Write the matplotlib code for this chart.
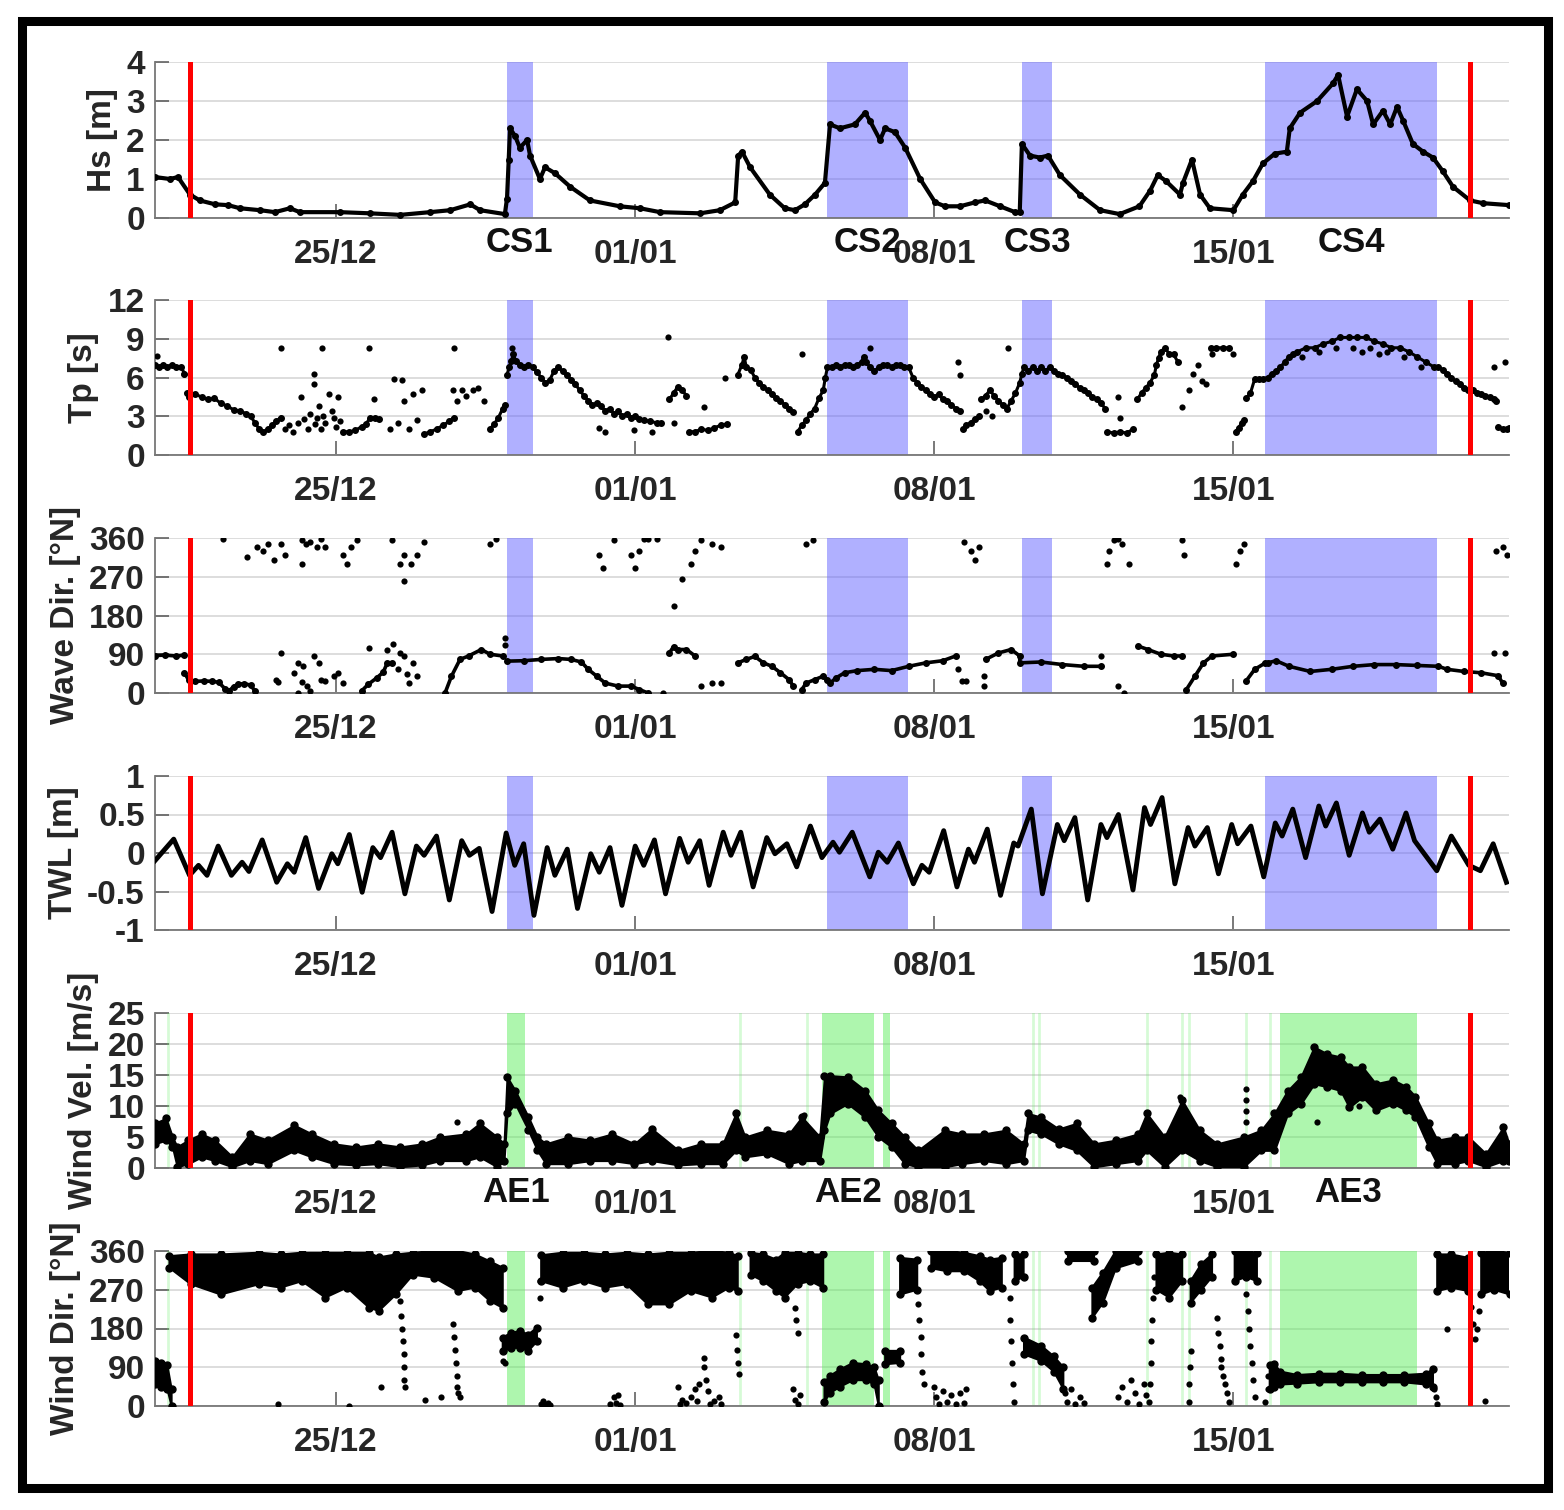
import numpy as np
import matplotlib
matplotlib.use("Agg")
import matplotlib.pyplot as plt
from matplotlib.patches import Rectangle
from matplotlib import font_manager

NA = np.nan

# time axis: days counted from 25/12 00:00
x_ticks = [0, 7, 14, 21]
x_ticklabels = ["25/12", "01/01", "08/01", "15/01"]
t_start, t_end = -4.25, 27.45

red_lines = [-3.42, 26.53]
cs_starts = [4.0, 11.5, 16.05, 21.75]
cs_ends = [4.6, 13.38, 16.76, 25.77]
cs_names = ["CS1", "CS2", "CS3", "CS4"]
ae_starts = [4.0, 11.37, 12.8, 22.08]
ae_ends = [4.43, 12.6, 12.97, 25.3]
ae_names = ["AE1", "AE2", "AE3"]
ae_label_t = [4.2, 11.98, 23.69]
ae_faint = [-3.93, 9.46, 11.01, 16.3, 16.45, 18.97, 19.8, 19.95, 21.29, 21.86]

# ---- Hs [m] ----
hs = np.array([
    [-4.24, 1.05], [-3.89, 1.0], [-3.70, 1.05], [-3.42, 0.6], [-3.19, 0.45], [-2.83, 0.35],
    [-2.53, 0.33], [-2.25, 0.25], [-1.78, 0.2], [-1.43, 0.15], [-1.08, 0.25], [-0.85, 0.15],
    [0.09, 0.15], [0.79, 0.12], [1.50, 0.08], [2.20, 0.15], [2.67, 0.2], [3.14, 0.35],
    [3.37, 0.2], [3.95, 0.1], [4.00, 0.5], [4.04, 1.5], [4.07, 2.3], [4.19, 2.1], [4.30, 1.8],
    [4.47, 2.0], [4.54, 1.6], [4.77, 1.0], [4.89, 1.3], [5.12, 1.15], [5.48, 0.8], [5.94, 0.45],
    [6.64, 0.3], [7.11, 0.25], [7.58, 0.15], [8.52, 0.12], [8.98, 0.2], [9.34, 0.4], [9.41, 1.6],
    [9.50, 1.7], [9.69, 1.3], [10.15, 0.6], [10.50, 0.25], [10.74, 0.2], [10.97, 0.35],
    [11.21, 0.6], [11.44, 0.9], [11.56, 2.4], [11.79, 2.3], [12.14, 2.4], [12.38, 2.7],
    [12.49, 2.5], [12.73, 2.0], [12.85, 2.3], [13.08, 2.2], [13.32, 1.8], [13.67, 1.0],
    [14.02, 0.4], [14.25, 0.3], [14.60, 0.3], [14.95, 0.4], [15.19, 0.45], [15.54, 0.3],
    [15.89, 0.15], [16.00, 0.15], [16.05, 1.9], [16.24, 1.6], [16.47, 1.55], [16.66, 1.6],
    [16.94, 1.1], [17.41, 0.6], [17.88, 0.2], [18.34, 0.1], [18.80, 0.3], [19.05, 0.7],
    [19.23, 1.1], [19.42, 0.95], [19.75, 0.6], [19.82, 0.9], [20.03, 1.5], [20.22, 0.6],
    [20.45, 0.25], [21.00, 0.2], [21.22, 0.6], [21.46, 0.95], [21.69, 1.4], [21.97, 1.65],
    [22.25, 1.7], [22.32, 2.3], [22.56, 2.7], [22.96, 3.0], [23.33, 3.45], [23.45, 3.67],
    [23.66, 2.6], [23.89, 3.3], [24.13, 3.0], [24.27, 2.4], [24.50, 2.75], [24.67, 2.4],
    [24.83, 2.85], [24.97, 2.5], [25.20, 1.9], [25.44, 1.7], [25.67, 1.55], [25.90, 1.2],
    [26.14, 0.8], [26.54, 0.45], [26.84, 0.38], [27.45, 0.33],
])

# ---- Tp [s]: continuous runs (NaN breaks) and isolated values ----
tp_runs = np.array([
    [-4.25, 7.0], [-4.15, 6.8], [-4.05, 7.0], [-3.95, 6.8], [-3.85, 7.0], [-3.75, 6.8], [-3.62, 6.8], [-3.55, 6.3], [NA, NA],
    [-3.5, 4.8], [-3.45, 4.5], [-3.3, 4.7], [-3.15, 4.5], [-3.0, 4.3], [-2.85, 4.4], [-2.7, 4.0], [-2.55, 3.8],
    [-2.4, 3.5], [-2.25, 3.4], [-2.1, 3.2], [-2.0, 3.0], [-1.9, 2.5], [-1.8, 2.0], [-1.7, 1.8], [-1.6, 2.0],
    [-1.5, 2.3], [-1.4, 2.6], [-1.3, 2.9], [NA, NA],
    [0.15, 1.8], [0.3, 1.8], [0.45, 1.9], [0.6, 2.2], [0.7, 2.4], [0.8, 2.9], [0.9, 2.9], [1.0, 2.8], [NA, NA],
    [2.05, 1.6], [2.2, 1.8], [2.35, 2.0], [2.5, 2.3], [2.65, 2.6], [2.75, 2.9], [NA, NA],
    [3.6, 2.0], [3.7, 2.4], [3.8, 2.9], [3.9, 3.6], [3.95, 3.9], [NA, NA],
    [4.0, 6.2], [4.05, 6.8], [4.1, 7.3], [4.15, 7.8], [4.2, 7.3], [4.3, 7.0], [4.4, 6.8], [4.5, 7.0],
    [4.6, 6.8], [4.7, 6.4], [4.8, 6.0], [4.9, 5.6], [5.0, 5.8], [5.1, 6.5], [5.2, 6.8], [5.3, 6.5],
    [5.4, 6.2], [5.5, 5.8], [5.6, 5.5], [5.7, 5.0], [5.8, 4.6], [5.9, 4.2], [6.0, 3.9], [6.1, 4.0],
    [6.2, 3.8], [6.3, 3.4], [6.4, 3.6], [6.5, 3.2], [6.6, 3.4], [6.7, 3.0], [6.8, 3.2], [6.9, 2.9],
    [7.0, 3.0], [7.1, 2.8], [7.2, 2.7], [7.35, 2.6], [7.5, 2.5], [7.6, 2.5], [NA, NA],
    [7.8, 4.3], [7.9, 4.8], [8.0, 5.3], [8.1, 5.0], [8.2, 4.6], [NA, NA],
    [8.25, 1.8], [8.4, 1.8], [8.55, 2.0], [8.7, 1.9], [8.85, 2.1], [9.0, 2.3], [9.15, 2.4], [NA, NA],
    [9.4, 6.2], [9.5, 7.0], [9.55, 7.6], [9.6, 6.8], [9.7, 6.6], [9.8, 6.0], [9.9, 5.6], [10.0, 5.3],
    [10.1, 5.0], [10.2, 4.7], [10.3, 4.4], [10.4, 4.2], [10.5, 3.9], [10.6, 3.6], [10.7, 3.3], [NA, NA],
    [10.8, 1.8], [10.9, 2.3], [11.0, 2.7], [11.1, 3.2], [11.2, 3.6], [11.3, 4.4], [11.4, 5.0],
    [11.45, 6.0], [11.5, 6.8], [11.6, 6.8], [11.7, 7.0], [11.8, 6.8], [11.9, 7.0], [12.0, 7.0],
    [12.1, 6.8], [12.2, 7.0], [12.3, 7.2], [12.35, 7.6], [12.4, 7.2], [12.5, 6.8], [12.6, 6.5],
    [12.7, 6.8], [12.8, 7.0], [12.9, 7.0], [13.0, 6.8], [13.1, 7.0], [13.2, 7.0], [13.3, 6.8],
    [13.4, 6.8], [13.5, 6.0], [13.6, 5.6], [13.7, 5.3], [13.8, 5.0], [13.9, 4.7], [14.0, 4.5],
    [14.1, 4.7], [14.2, 4.3], [14.3, 4.2], [14.4, 3.9], [14.5, 3.6], [14.6, 3.4], [NA, NA],
    [14.68, 2.0], [14.75, 2.3], [14.85, 2.5], [14.95, 2.8], [15.05, 3.0], [NA, NA],
    [15.1, 4.3], [15.2, 4.6], [15.3, 5.0], [15.4, 4.6], [15.5, 4.2], [15.6, 3.9], [15.7, 3.6],
    [15.8, 4.2], [15.9, 4.8], [16.0, 5.6], [16.05, 6.3], [16.1, 6.8], [16.2, 6.5], [16.3, 6.8],
    [16.4, 6.5], [16.5, 6.8], [16.6, 6.5], [16.7, 6.8], [16.8, 6.5], [16.9, 6.3], [17.0, 6.2],
    [17.1, 6.0], [17.2, 5.7], [17.3, 5.5], [17.4, 5.2], [17.5, 5.0], [17.6, 4.8], [17.7, 4.5],
    [17.8, 4.3], [17.9, 4.0], [18.0, 3.6], [NA, NA],
    [18.05, 1.8], [18.2, 1.7], [18.35, 1.8], [18.5, 1.7], [18.65, 2.0], [NA, NA],
    [18.75, 4.3], [18.85, 4.8], [18.95, 5.2], [19.05, 5.6], [19.15, 6.2], [19.2, 7.0], [19.25, 7.5],
    [19.3, 8.0], [19.4, 8.3], [19.5, 7.8], [19.6, 7.8], [19.7, 7.2], [NA, NA],
    [20.47, 8.3], [20.6, 8.3], [20.75, 8.3], [20.9, 8.3], [NA, NA],
    [21.05, 1.8], [21.12, 2.1], [21.2, 2.5], [21.25, 2.7], [NA, NA],
    [21.3, 4.4], [21.4, 4.8], [21.5, 5.9], [21.6, 5.9], [21.7, 5.9], [21.8, 6.0], [21.9, 6.3],
    [22.0, 6.5], [22.1, 6.8], [22.2, 7.2], [22.3, 7.6], [22.4, 7.8], [22.5, 8.0], [22.7, 8.3],
    [22.9, 8.3], [23.1, 8.6], [23.3, 8.8], [23.5, 9.1], [23.7, 9.1], [23.9, 9.1], [24.1, 9.1],
    [24.3, 8.8], [24.5, 8.6], [24.7, 8.3], [24.9, 8.3], [25.1, 8.0], [25.3, 7.6], [25.5, 7.2],
    [25.7, 6.8], [25.8, 6.8], [25.9, 6.6], [26.0, 6.3], [26.1, 6.0], [26.2, 5.7], [26.3, 5.5],
    [26.4, 5.2], [26.5, 5.0], [26.6, 5.0], [26.7, 4.8], [26.8, 4.7], [26.9, 4.6], [27.0, 4.5],
    [27.1, 4.3], [27.15, 4.2], [NA, NA],
    [27.2, 2.2], [27.3, 2.0], [27.4, 2.0], [27.45, 2.1],
])
tp_pts = np.array([
    [-4.2, 7.7], [-3.57, 6.3], [-1.29, 8.3], [-0.33, 8.3], [0.78, 8.3], [2.77, 8.3], [-0.52, 6.3],
    [-0.52, 5.5], [-1.2, 2.0], [-1.1, 2.3], [-1.0, 1.8], [-0.9, 2.5], [-0.83, 4.5], [-0.75, 2.8],
    [-0.65, 2.0], [-0.6, 3.2], [-0.5, 2.4], [-0.45, 2.9], [-0.4, 3.8], [-0.35, 2.0], [-0.3, 3.0],
    [-0.25, 2.5], [-0.16, 4.7], [-0.1, 3.4], [-0.05, 2.9], [0.0, 2.2], [0.05, 4.5], [0.1, 2.6],
    [0.88, 4.3], [1.35, 5.9], [1.55, 5.8], [1.6, 4.2], [1.8, 4.7], [1.9, 2.7], [2.0, 5.0],
    [1.25, 2.0], [1.45, 2.5], [1.7, 2.0], [2.74, 5.0], [2.84, 4.2], [2.95, 5.0], [3.05, 4.6],
    [3.2, 5.0], [3.31, 5.2], [3.46, 4.2], [4.12, 8.3], [6.15, 2.1], [6.3, 1.75], [6.98, 1.9],
    [7.39, 1.75], [7.76, 9.1], [7.9, 2.5], [8.6, 3.7], [9.1, 6.0], [10.9, 7.8], [12.49, 8.3],
    [14.55, 7.2], [14.6, 6.2], [15.73, 8.3], [15.2, 3.4], [15.35, 3.0], [18.3, 4.5], [18.35, 2.9],
    [19.8, 3.7], [19.95, 5.0], [20.05, 6.3], [20.16, 7.0], [20.26, 5.75], [20.36, 5.5],
    [20.5, 7.8], [21.0, 7.8], [22.6, 7.6], [23.0, 8.0], [23.4, 8.3], [23.8, 8.3], [24.0, 8.0],
    [24.2, 8.3], [24.4, 7.8], [24.6, 8.0], [25.0, 7.6], [25.4, 6.8], [27.1, 6.8], [27.35, 7.2],
])

# ---- Wave direction [°N] ----
wdir_runs = np.array([
    [-4.25, 87], [-4.0, 88], [-3.75, 86], [-3.55, 88], [NA, NA],
    [-3.55, 47], [-3.45, 30], [-3.3, 27], [-3.1, 28], [-2.9, 27], [-2.75, 25], [-2.6, 10], [-2.5, 5],
    [-2.4, 15], [-2.3, 20], [-2.15, 22], [-2.0, 18], [-1.9, 5], [NA, NA],
    [0.6, 5], [0.75, 20], [0.95, 35], [1.1, 48], [1.2, 70], [1.3, 70], [NA, NA],
    [2.55, 0], [2.7, 39], [2.9, 78], [3.1, 86], [3.4, 101], [3.6, 90], [3.9, 86], [NA, NA],
    [4.0, 74], [4.4, 75], [4.8, 78], [5.2, 80], [5.5, 78], [5.74, 72], [5.9, 55], [6.1, 39],
    [6.3, 23], [6.6, 16], [6.9, 16], [7.1, 8], [7.3, 0], [NA, NA],
    [7.8, 93], [7.9, 108], [8.0, 101], [8.2, 101], [8.4, 86], [NA, NA],
    [9.4, 70], [9.6, 78], [9.8, 85], [10.0, 70], [10.2, 62], [10.4, 47], [10.6, 31], [10.7, 16], [NA, NA],
    [10.9, 8], [11.0, 23], [11.2, 31], [11.4, 39], [11.5, 30], [11.56, 23], [11.7, 35], [11.9, 47],
    [12.2, 52], [12.6, 55], [13.0, 52], [13.4, 62], [13.8, 70], [14.2, 75], [14.5, 86], [NA, NA],
    [15.2, 78], [15.5, 93], [15.8, 101], [16.0, 86], [16.0, 70], [16.5, 72], [17.0, 66], [17.5, 62],
    [17.9, 62], [NA, NA],
    [18.77, 109], [19.0, 101], [19.3, 90], [19.6, 86], [19.8, 86], [NA, NA],
    [19.9, 8], [20.1, 39], [20.3, 70], [20.5, 86], [21.0, 90], [NA, NA],
    [21.29, 27], [21.5, 55], [21.75, 70], [21.8, 70], [22.0, 75], [22.3, 62], [22.8, 50], [23.3, 55],
    [23.8, 62], [24.3, 66], [24.8, 66], [25.3, 64], [25.8, 62], [26.0, 55], [26.4, 50], [26.8, 47],
    [27.2, 40], [27.3, 23],
])
wdir_pts = np.array([
    [-1.4, 31], [-1.3, 93], [-1.35, 25], [-0.98, 47], [-0.88, 70], [-0.78, 62], [-0.68, 16],
    [-0.52, 86], [-0.41, 70], [-0.36, 31], [-0.26, 27], [-0.05, 39], [0.05, 47], [0.15, 23],
    [-0.9, 0], [-0.6, 5], [-0.8, 25], [0.78, 105], [1.19, 101], [1.34, 113], [1.5, 93],
    [1.6, 86], [1.8, 70], [1.7, 23], [1.9, 39], [1.45, 55], [1.65, 45], [3.95, 128], [3.95, 112],
    [7.66, 0], [8.53, 16], [8.8, 23], [9.0, 23], [14.55, 55], [14.65, 27], [14.75, 27],
    [15.16, 16], [15.16, 39], [17.9, 86], [18.3, 16], [18.45, 0], [27.1, 93], [27.35, 93],
    [-2.64, 357], [-2.08, 315], [-1.85, 340], [-1.7, 330], [-1.6, 345], [-1.45, 310], [-1.3, 345],
    [-1.2, 320], [-0.8, 355], [-0.7, 345], [-0.6, 350], [-0.45, 340], [-0.35, 358], [-0.25, 340],
    [-0.8, 300], [0.15, 320], [0.25, 300], [0.35, 340], [0.5, 355], [1.3, 355], [1.5, 300],
    [1.6, 320], [1.6, 260], [1.75, 300], [1.9, 320], [2.05, 350], [3.6, 345], [3.75, 358],
    [6.15, 320], [6.25, 290], [6.5, 355], [6.9, 320], [7.0, 290], [7.2, 358], [7.3, 358],
    [7.5, 358], [7.1, 330], [8.1, 265], [7.9, 203], [8.3, 300], [8.4, 330], [8.55, 355],
    [8.8, 345], [9.0, 340], [11.0, 345], [11.15, 355], [14.7, 350], [14.85, 330], [14.95, 310],
    [15.05, 340], [18.05, 300], [18.1, 330], [18.2, 355], [18.3, 358], [18.4, 345], [18.55, 300],
    [19.8, 355], [19.85, 320], [21.05, 300], [21.15, 330], [21.25, 345], [27.15, 330],
    [27.3, 340], [27.4, 320],
])

# ---- TWL [m] ----
twl = np.array([
    [-4.24, -0.10], [-3.80, 0.18], [-3.43, -0.29], [-3.22, -0.16], [-3.02, -0.29], [-2.76, 0.09],
    [-2.45, -0.29], [-2.20, -0.12], [-2.04, -0.24], [-1.73, 0.17], [-1.39, -0.38], [-1.14, -0.14],
    [-0.98, -0.25], [-0.71, 0.20], [-0.41, -0.46], [-0.10, -0.01], [0.04, -0.14], [0.31, 0.24],
    [0.61, -0.51], [0.86, 0.07], [1.04, -0.06], [1.31, 0.27], [1.61, -0.53], [1.88, 0.09],
    [2.06, -0.03], [2.35, 0.22], [2.65, -0.61], [2.94, 0.16], [3.12, -0.03], [3.35, 0.06],
    [3.65, -0.76], [3.98, 0.26], [4.18, -0.16], [4.39, 0.12], [4.63, -0.81], [4.94, 0.07],
    [5.12, -0.29], [5.41, 0.05], [5.65, -0.72], [5.96, -0.01], [6.16, -0.25], [6.41, 0.07],
    [6.69, -0.68], [7.00, 0.09], [7.20, -0.16], [7.45, 0.17], [7.71, -0.53], [8.04, 0.19],
    [8.24, -0.12], [8.51, 0.16], [8.73, -0.42], [9.06, 0.27], [9.24, -0.03], [9.47, 0.27],
    [9.76, -0.44], [10.08, 0.20], [10.27, -0.01], [10.55, 0.12], [10.78, -0.18], [11.10, 0.35],
    [11.37, -0.06], [11.63, 0.14], [11.78, 0.01], [12.08, 0.27], [12.49, -0.31], [12.69, 0.01],
    [12.90, -0.12], [13.16, 0.13], [13.51, -0.40], [13.71, -0.16], [13.88, -0.25], [14.22, 0.29],
    [14.53, -0.44], [14.80, 0.05], [14.94, -0.12], [15.24, 0.31], [15.55, -0.55], [15.86, 0.13],
    [15.96, 0.09], [16.27, 0.57], [16.53, -0.53], [16.88, 0.37], [17.04, 0.16], [17.29, 0.46],
    [17.59, -0.61], [17.90, 0.37], [18.04, 0.20], [18.31, 0.50], [18.65, -0.48], [18.92, 0.59],
    [19.06, 0.37], [19.33, 0.72], [19.63, -0.40], [19.94, 0.33], [20.10, 0.09], [20.39, 0.33],
    [20.65, -0.27], [20.96, 0.37], [21.10, 0.12], [21.41, 0.35], [21.71, -0.31], [21.98, 0.39],
    [22.14, 0.22], [22.39, 0.57], [22.69, -0.06], [23.00, 0.61], [23.16, 0.35], [23.41, 0.65],
    [23.71, -0.03], [24.02, 0.52], [24.18, 0.27], [24.43, 0.44], [24.73, 0.05], [25.04, 0.52],
    [25.24, 0.16], [25.76, -0.23], [26.10, 0.22], [26.51, -0.16], [26.78, -0.23], [27.08, 0.12],
    [27.39, -0.38],
])

# ---- Wind velocity [m/s]: lower / upper edge of the point cloud ----
wvel = np.array([
    [-4.25, 3.9, 7.2], [-3.98, 4.5, 8.0], [-3.83, 3.4, 5.0], [-3.72, 0.2, 3.4], [-3.46, 0.7, 4.5],
    [-3.15, 1.8, 5.5], [-2.84, 1.2, 4.5], [-2.43, 0.2, 1.8], [-2.02, 1.2, 5.5], [-1.6, 0.7, 4.5],
    [-0.98, 2.85, 6.9], [-0.57, 1.8, 5.5], [-0.05, 0.7, 3.9], [0.47, 0.5, 3.4], [0.98, 0.7, 3.9],
    [1.5, 0.2, 3.4], [2.02, 0.5, 3.9], [2.43, 1.2, 5.0], [3.05, 1.2, 5.5], [3.36, 1.8, 7.2],
    [3.77, 0.2, 5.0], [3.93, 1.2, 3.9], [4.0, 8.8, 14.7], [4.19, 10.4, 12.5], [4.5, 6.1, 8.2],
    [4.71, 2.85, 5.0], [4.91, 0.7, 3.9], [5.43, 0.7, 5.0], [5.95, 1.2, 4.5], [6.46, 1.2, 5.5],
    [6.98, 0.7, 3.9], [7.39, 1.2, 6.3], [8.01, 0.5, 2.85], [8.53, 0.7, 3.9], [9.05, 0.7, 3.9],
    [9.36, 2.85, 8.8], [9.57, 1.8, 5.0], [10.08, 2.3, 6.1], [10.6, 0.7, 5.5], [10.9, 1.2, 8.2],
    [11.32, 1.2, 5.0], [11.43, 6.1, 14.9], [11.56, 8.8, 14.9], [11.97, 10.4, 14.7],
    [12.38, 8.2, 12.5], [12.69, 5.0, 9.3], [13.0, 3.4, 7.2], [13.31, 0.7, 5.0], [13.62, 0.2, 2.85],
    [14.24, 0.2, 6.1], [14.65, 0.7, 5.5], [15.16, 1.2, 5.5], [15.68, 0.7, 6.1], [16.09, 1.2, 3.9],
    [16.19, 6.1, 8.8], [16.5, 5.5, 8.2], [16.91, 3.9, 6.3], [17.33, 2.85, 7.2], [17.74, 0.2, 3.9],
    [18.25, 0.7, 4.5], [18.77, 1.2, 5.5], [18.97, 2.85, 8.8], [19.39, 0.2, 5.0], [19.8, 2.85, 10.9],
    [20.21, 1.2, 6.1], [20.62, 0.2, 3.9], [21.24, 0.2, 5.0], [21.65, 2.85, 6.1], [21.96, 2.85, 8.8],
    [22.27, 8.8, 12.5], [22.58, 10.4, 14.7], [22.89, 13.6, 19.5], [23.2, 13.1, 18.4],
    [23.51, 12.5, 17.9], [23.71, 9.8, 16.3], [24.02, 11.5, 16.3], [24.33, 9.3, 13.6],
    [24.74, 10.4, 14.2], [25.05, 9.3, 13.1], [25.26, 8.2, 11.5], [25.57, 3.4, 7.2],
    [25.77, 0.7, 4.5], [26.18, 0.7, 5.0], [26.5, 1.2, 5.0], [26.91, 0.2, 2.3], [27.32, 1.2, 6.6],
    [27.45, 1.2, 3.9],
])
wvel_pts = np.array([
    [2.84, 7.4], [10.95, 8.5], [19.75, 11.5], [21.29, 12.8], [21.29, 11.0], [21.29, 9.2],
    [21.29, 7.5], [23.95, 10.0], [22.95, 7.5],
])

# ---- Wind direction [°N]: dense clusters (lower / upper edge) and scattered values ----
wind_dir_bands = np.array([
    [-4.25, 50, 105], [-4.1, 45, 100], [-3.95, 40, 95], [-3.85, 0, 40], [NA, NA, NA],
    [-3.9, 321, 348], [-3.4, 283, 352], [-2.7, 259, 352], [-1.8, 283, 356], [-1.3, 275, 352],
    [-0.8, 290, 356], [-0.25, 252, 356], [0.25, 275, 356], [0.78, 228, 356], [1.0, 221, 345],
    [1.4, 259, 352], [1.8, 305, 356], [2.3, 298, 360], [2.85, 267, 360], [3.25, 275, 352],
    [3.6, 244, 336], [3.9, 228, 321], [NA, NA, NA],
    [3.9, 128, 159], [4.1, 135, 170], [4.3, 135, 174], [4.5, 128, 166], [4.7, 150, 182], [NA, NA, NA],
    [4.8, 290, 350], [5.3, 275, 356], [5.8, 290, 356], [6.3, 275, 352], [6.8, 283, 356],
    [7.3, 236, 352], [7.8, 236, 356], [8.3, 267, 356], [8.8, 252, 360], [9.2, 275, 356],
    [9.4, 267, 348], [NA, NA, NA],
    [9.7, 305, 356], [10.0, 290, 352], [10.3, 267, 340], [10.5, 252, 356], [10.8, 283, 356],
    [11.1, 290, 352], [11.4, 275, 352], [NA, NA, NA],
    [11.43, 10, 55], [11.56, 30, 70], [11.8, 45, 85], [12.1, 60, 100], [12.4, 60, 97],
    [12.6, 50, 90], [12.7, 0, 60], [NA, NA, NA],
    [12.85, 97, 128], [13.2, 100, 128], [NA, NA, NA],
    [13.2, 259, 344], [13.6, 270, 340], [NA, NA, NA],
    [13.93, 320, 360], [14.3, 313, 360], [14.7, 313, 356], [15.06, 290, 348], [15.3, 267, 340],
    [15.58, 275, 344], [NA, NA, NA],
    [15.88, 290, 352], [16.09, 300, 352], [NA, NA, NA],
    [16.1, 120, 159], [16.5, 105, 140], [16.8, 80, 115], [17.02, 40, 90], [NA, NA, NA],
    [17.12, 336, 360], [17.74, 336, 360], [NA, NA, NA],
    [17.7, 205, 275], [17.95, 240, 310], [18.25, 320, 360], [18.77, 336, 360], [NA, NA, NA],
    [19.2, 270, 352], [19.5, 252, 356], [19.8, 290, 352], [NA, NA, NA],
    [20.0, 240, 290], [20.25, 270, 330], [20.5, 300, 352], [NA, NA, NA],
    [21.03, 290, 360], [21.3, 300, 360], [21.55, 290, 356], [NA, NA, NA],
    [21.85, 40, 95], [21.96, 45, 97], [22.1, 50, 80], [22.5, 52, 72], [23.0, 55, 75], [23.5, 55, 75],
    [24.0, 55, 72], [24.5, 55, 72], [25.0, 55, 72], [25.5, 50, 75], [25.67, 45, 85], [NA, NA, NA],
    [25.77, 267, 352], [26.1, 275, 352], [26.5, 267, 344], [NA, NA, NA],
    [26.8, 259, 356], [27.1, 270, 360], [27.47, 259, 356],
])
wind_dir_pts = np.array([
    [1.5, 244], [1.52, 210], [1.55, 180], [1.57, 150], [1.58, 120], [1.6, 90], [1.6, 60], [1.62, 43],
    [2.74, 190], [2.76, 160], [2.78, 130], [2.8, 100], [2.82, 70], [2.84, 45], [2.86, 30], [2.9, 20],
    [1.05, 43], [2.07, 13], [2.45, 20], [0.3, 0], [-1.35, 4], [4.78, 290], [4.78, 251], [3.9, 105],
    [3.95, 100], [3.93, 130], [9.36, 166], [9.38, 130], [9.4, 100], [9.42, 74], [10.75, 228],
    [10.77, 200], [10.8, 170], [8.6, 112], [8.62, 90], [8.65, 60], [13.62, 236], [13.65, 200],
    [13.68, 160], [13.7, 120], [13.72, 80], [13.75, 50], [15.76, 250], [15.78, 200], [15.8, 150],
    [15.82, 100], [15.84, 50], [15.86, 10], [19.15, 300], [19.12, 250], [19.1, 200], [19.08, 150],
    [19.06, 100], [19.04, 50], [19.02, 10], [20.0, 128], [19.98, 90], [19.96, 50], [19.95, 10],
    [20.62, 205], [20.65, 170], [20.68, 140], [20.7, 110], [20.72, 90], [20.75, 70], [20.8, 50],
    [20.85, 30], [20.9, 10], [21.3, 260], [21.33, 220], [21.36, 180], [21.4, 140], [21.43, 100],
    [21.46, 60], [21.5, 20], [25.7, 40], [25.73, 20], [25.76, 5], [26.5, 267], [26.55, 230],
    [26.6, 190], [26.65, 155], [26.7, 180], [26.75, 220], [26.8, 260], [26.0, 178], [26.9, 12],
    [4.8, 5], [4.85, 12], [4.9, 3], [4.95, 8], [5.0, 2],
    [6.42, 5], [6.5, 20], [6.55, 8], [6.6, 25], [6.65, 3],
    [8.0, 43], [8.05, 4], [8.1, 15], [8.2, 8], [8.3, 20], [8.4, 40], [8.45, 12], [8.5, 50],
    [8.7, 35], [8.75, 5], [8.85, 12], [8.95, 20], [9.0, 5],
    [10.7, 40], [10.75, 15], [10.8, 5], [10.85, 25],
    [14.0, 45], [14.05, 20], [14.1, 5], [14.2, 35], [14.3, 10], [14.4, 25], [14.5, 5],
    [14.6, 30], [14.7, 8], [14.75, 40],
    [17.05, 30], [17.1, 10], [17.2, 40], [17.3, 5], [17.4, 20], [17.5, 8],
    [18.3, 20], [18.4, 45], [18.5, 10], [18.6, 60], [18.7, 30], [18.8, 5], [18.9, 50], [18.95, 25],
    [21.75, 10], [21.8, 40], [21.82, 70],
])

# ---------------------------------------------------------------
plt.rcParams["font.family"] = ["Liberation Sans", "DejaVu Sans"]
narrow = ["Liberation Sans Narrow", "Liberation Sans", "DejaVu Sans"]
have_narrow = any("Narrow" in f.name for f in font_manager.fontManager.ttflist)
tick_family = narrow if have_narrow else ["Liberation Sans", "DejaVu Sans"]
tick_size = 24 if have_narrow else 21

W, H = 1564, 1510
fig = plt.figure(figsize=(W / 100, H / 100), dpi=100)

# panel rows in pixels (top, bottom)
rows = [(62, 218), (300, 455), (538, 693), (776, 930), (1013, 1168), (1251, 1406)]
ax_left, ax_right = 154.5, 1509

TXT = "#262626"
BLUE = "#6262ff"
GREEN = "#5fee5f"


def make_axis(i, ylim, yticks, yticklabels, ylabel):
    top, bot = rows[i]
    ax = fig.add_axes([ax_left / W, 1 - bot / H, (ax_right - ax_left) / W, (bot - top) / H])
    ax.set_xlim(t_start, t_end)
    ax.set_ylim(*ylim)
    ax.set_yticks(yticks)
    ax.set_yticklabels(yticklabels)
    ax.set_xticks(x_ticks)
    ax.set_xticklabels(x_ticklabels)
    for s in ("top", "right"):
        ax.spines[s].set_visible(False)
    for s in ("left", "bottom"):
        ax.spines[s].set_color("#777777")
        ax.spines[s].set_linewidth(1.3)
    ax.tick_params(axis="both", direction="in", length=10, width=1.1, color="#555555",
                   labelcolor=TXT)
    ax.tick_params(axis="x", pad=15)
    ax.tick_params(axis="y", pad=7)
    for lab in ax.get_xticklabels() + ax.get_yticklabels():
        lab.set_family(tick_family)
        lab.set_fontsize(tick_size)
        lab.set_fontweight("bold")
    ax.yaxis.grid(True, color="#dddddd", lw=1.4)
    ax.set_axisbelow(True)
    ax.set_ylabel(ylabel, fontsize=24, fontweight="bold", color=TXT, labelpad=6)
    for r in red_lines:
        ax.axvline(r, color="red", lw=3.6, zorder=6)
    return ax


def cs_spans(ax):
    for a, b in zip(cs_starts, cs_ends):
        ax.axvspan(a, b, color=BLUE, alpha=0.5, lw=0, zorder=1)


def ae_spans(ax):
    for a, b in zip(ae_starts, ae_ends):
        ax.axvspan(a, b, color=GREEN, alpha=0.5, lw=0, zorder=1)
    for f in ae_faint:
        ax.axvline(f, color=GREEN, alpha=0.25, lw=2.0, zorder=1)


def cloud(ax, band):
    # dense point cloud: filled between its edges, edges drawn as dots
    ax.fill_between(band[:, 0], band[:, 1], band[:, 2], color="black", lw=1.5, zorder=4)
    ax.plot(band[:, 0], band[:, 1], "o", color="black", ms=5, zorder=4)
    ax.plot(band[:, 0], band[:, 2], "o", color="black", ms=5, zorder=4)


dot = dict(color="black", s=20, lw=0, zorder=4)

# Hs
ax1 = make_axis(0, (0, 4), [0, 1, 2, 3, 4], ["0", "1", "2", "3", "4"], "Hs [m]")
cs_spans(ax1)
ax1.plot(hs[:, 0], hs[:, 1], "-", color="black", lw=3.0, marker="o", ms=4, zorder=4,
         solid_joinstyle="round")
for name, a, b in zip(cs_names, cs_starts, cs_ends):
    ax1.text((a + b) / 2, -0.155, name, transform=ax1.get_xaxis_transform(), ha="center",
             va="center", fontsize=tick_size + 1, fontweight="bold", family=tick_family,
             color="#111111")

# Tp
ax2 = make_axis(1, (0, 12), [0, 3, 6, 9, 12], ["0", "3", "6", "9", "12"], "Tp [s]")
cs_spans(ax2)
ax2.plot(tp_runs[:, 0], tp_runs[:, 1], "-", color="black", lw=2.2, marker="o", ms=4, zorder=4)
ax2.scatter(tp_pts[:, 0], tp_pts[:, 1], **dot)

# Wave direction
ax3 = make_axis(2, (0, 360), [0, 90, 180, 270, 360], ["0", "90", "180", "270", "360"],
                "Wave Dir. [°N]")
cs_spans(ax3)
ax3.plot(wdir_runs[:, 0], wdir_runs[:, 1], "-", color="black", lw=2.6, marker="o", ms=4, zorder=4)
ax3.scatter(wdir_pts[:, 0], wdir_pts[:, 1], **dot)

# TWL
ax4 = make_axis(3, (-1, 1), [-1, -0.5, 0, 0.5, 1], ["-1", "-0.5", "0", "0.5", "1"], "TWL [m]")
cs_spans(ax4)
ax4.plot(twl[:, 0], twl[:, 1], "-", color="black", lw=3.5, zorder=4, solid_joinstyle="round")

# Wind velocity
ax5 = make_axis(4, (0, 25), [0, 5, 10, 15, 20, 25], ["0", "5", "10", "15", "20", "25"],
                "Wind Vel. [m/s]")
ae_spans(ax5)
cloud(ax5, wvel)
ax5.scatter(wvel_pts[:, 0], wvel_pts[:, 1], **dot)
for name, xc in zip(ae_names, ae_label_t):
    ax5.text(xc, -0.16, name, transform=ax5.get_xaxis_transform(), ha="center", va="center",
             fontsize=tick_size + 1, fontweight="bold", family=tick_family, color="#111111")

# Wind direction
ax6 = make_axis(5, (0, 360), [0, 90, 180, 270, 360], ["0", "90", "180", "270", "360"],
                "Wind Dir. [°N]")
ae_spans(ax6)
cloud(ax6, wind_dir_bands)
ax6.scatter(wind_dir_pts[:, 0], wind_dir_pts[:, 1], **dot)
ax6.set_ylim(0, 360)

# outer frame
fig.add_artist(Rectangle((21.5 / W, 1 - 1487.5 / H), 1526 / W, 1467 / H,
                         transform=fig.transFigure, fill=False, lw=6.5, ec="black"))

fig.savefig("out.png", dpi=100)
